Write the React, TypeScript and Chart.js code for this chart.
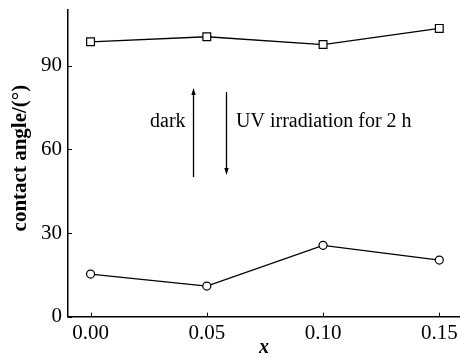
import React, { useEffect, useRef } from "react";
import { Chart, registerables } from "chart.js";

Chart.register(...registerables);

const xValues = [0, 0.05, 0.1, 0.15];
const darkAngle = [98.6, 100.4, 97.6, 103.4];
const uvAngle = [15.3, 11.0, 25.6, 20.3];
const xTicks = [0, 0.05, 0.1, 0.15];
const yTicks = [0, 30, 60, 90];
const yTitle = "  contact angle/(°)";
const xTitle = "x";
const darkLabel = "dark";
const uvLabel = "UV irradiation for 2 h";
// arrows: [x, yFrom, yTo] in data units
const darkArrow = [0.0439, 50.1, 82.0];
const uvArrow = [0.0583, 80.6, 50.8];
const labelY = 70;

const SERIF = "'Liberation Serif', 'Times New Roman', serif";

const innerTicks = {
  id: "innerTicks",
  afterDraw(chart: any) {
    const { ctx, chartArea, scales } = chart;
    const L = 4;
    ctx.save();
    ctx.strokeStyle = "#000";
    ctx.lineWidth = 1;
    xTicks.forEach((v) => {
      const px = Math.round(scales.x.getPixelForValue(v)) + 0.5;
      ctx.beginPath();
      ctx.moveTo(px, chartArea.bottom);
      ctx.lineTo(px, chartArea.bottom - L);
      ctx.stroke();
    });
    yTicks.forEach((v) => {
      const py = Math.round(scales.y.getPixelForValue(v)) + 0.5;
      ctx.beginPath();
      ctx.moveTo(chartArea.left, py);
      ctx.lineTo(chartArea.left + L, py);
      ctx.stroke();
    });

    const drawArrow = (a: number[]) => {
      const x = Math.round(scales.x.getPixelForValue(a[0])) + 0.5;
      const y0 = scales.y.getPixelForValue(a[1]);
      const y1 = scales.y.getPixelForValue(a[2]);
      const dir = y1 < y0 ? -1 : 1;
      const head = 7;
      ctx.beginPath();
      ctx.moveTo(x, y0);
      ctx.lineTo(x, y1 - dir * head);
      ctx.lineWidth = 1.3;
      ctx.stroke();
      ctx.beginPath();
      ctx.moveTo(x, y1);
      ctx.lineTo(x - 2.2, y1 - dir * head);
      ctx.lineTo(x + 2.2, y1 - dir * head);
      ctx.closePath();
      ctx.fillStyle = "#000";
      ctx.fill();
    };
    drawArrow(darkArrow);
    drawArrow(uvArrow);

    ctx.font = `20px ${SERIF}`;
    ctx.fillStyle = "#000";
    ctx.textBaseline = "middle";
    const ty = scales.y.getPixelForValue(labelY);
    ctx.textAlign = "right";
    ctx.fillText(darkLabel, scales.x.getPixelForValue(darkArrow[0]) - 7, ty);
    ctx.textAlign = "left";
    ctx.fillText(uvLabel, scales.x.getPixelForValue(uvArrow[0]) + 10, ty);
    ctx.restore();
  },
};

export default function App() {
  const ref = useRef<HTMLCanvasElement>(null);
  useEffect(() => {
    if (!ref.current) return;
    const mk = (vals: number[]) => xValues.map((x, i) => ({ x, y: vals[i] }));
    const chart = new Chart(ref.current, {
      type: "line",
      data: {
        datasets: [
          {
            label: "dark",
            data: mk(darkAngle),
            borderColor: "#000",
            borderWidth: 1.3,
            pointStyle: "rect",
            pointRadius: 5.5,
            pointBorderWidth: 1.2,
            pointBackgroundColor: "#fff",
            pointBorderColor: "#000",
            tension: 0,
            clip: false,
          },
          {
            label: "uv",
            data: mk(uvAngle),
            borderColor: "#000",
            borderWidth: 1.3,
            pointStyle: "circle",
            pointRadius: 4,
            pointBorderWidth: 1.2,
            pointBackgroundColor: "#fff",
            pointBorderColor: "#000",
            tension: 0,
            clip: false,
          },
        ],
      },
      options: {
        animation: false,
        responsive: false,
        layout: { autoPadding: false, padding: { top: 10, right: 0, left: 0, bottom: 0 } },
        plugins: { legend: { display: false }, tooltip: { enabled: false } },
        scales: {
          x: {
            type: "linear",
            min: -0.0097,
            max: 0.1589,
            afterBuildTicks: (s: any) => {
              s.ticks = xTicks.map((v) => ({ value: v }));
            },
            afterFit: (s: any) => {
              s.height = 41.3;
              s.paddingLeft = 0;
              s.paddingRight = 0;
            },
            grid: { display: false, drawTicks: false },
            border: { display: true, color: "#000", width: 1.5 },
            ticks: {
              padding: 4,
              color: "#000",
              font: { family: SERIF, size: 21 },
              callback: (v: any) => Number(v).toFixed(2),
              maxRotation: 0,
              autoSkip: false,
            },
            title: {
              display: true,
              text: xTitle,
              color: "#000",
              font: { family: SERIF, size: 20, weight: "bold", style: "italic", lineHeight: 1 },
              padding: { top: 0, bottom: 0 },
            },
          },
          y: {
            type: "linear",
            min: 0,
            max: 110,
            afterBuildTicks: (s: any) => {
              s.ticks = yTicks.map((v) => ({ value: v }));
            },
            afterFit: (s: any) => {
              s.width = 68;
              s.paddingTop = 0;
              s.paddingBottom = 0;
            },
            grid: { display: false, drawTicks: false },
            border: { display: true, color: "#000", width: 1.5 },
            ticks: {
              padding: 6,
              color: "#000",
              font: { family: SERIF, size: 21 },
              autoSkip: false,
            },
            title: {
              display: true,
              text: yTitle,
              color: "#000",
              font: { family: SERIF, size: 21, weight: "bold", lineHeight: 1.2 },
              padding: { top: 8, bottom: 0 },
            },
          },
        },
      },
      plugins: [innerTicks],
    });
    return () => chart.destroy();
  }, []);
  return (
    <div style={{ position: "absolute", left: 0, top: 0, width: 460, height: 358, background: "#fff" }}>
      <canvas ref={ref} width={460} height={358} style={{ display: "block" }} />
    </div>
  );
}
